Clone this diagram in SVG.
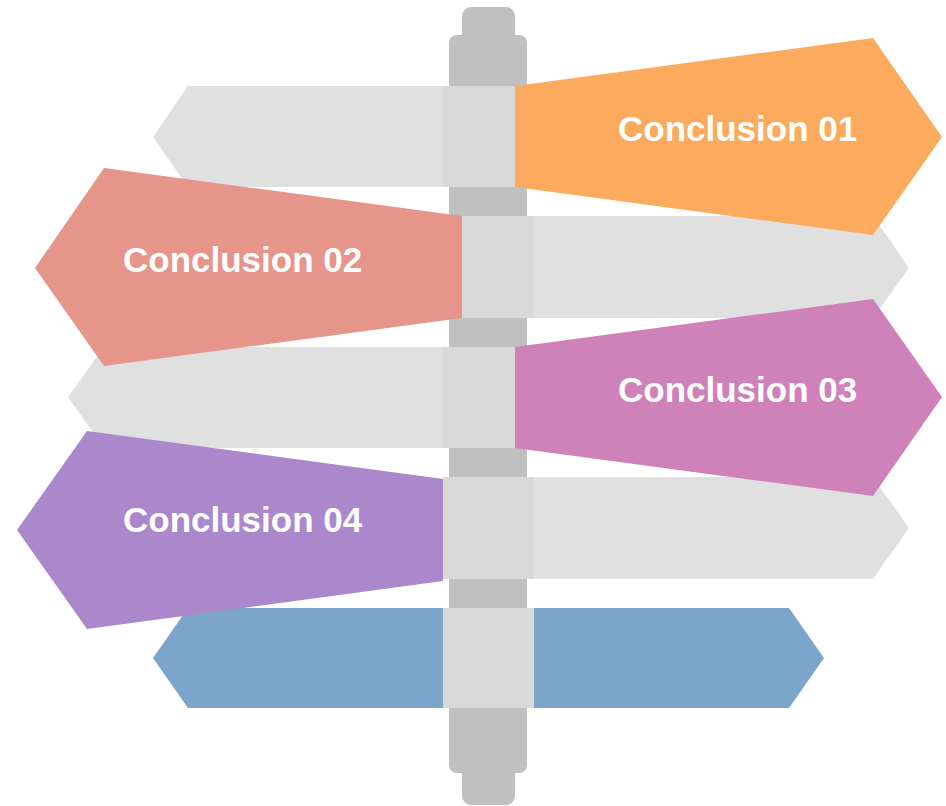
<svg xmlns="http://www.w3.org/2000/svg" width="946" height="806" viewBox="0 0 946 806">
  <style>
    .pole { fill: #c0c0c0; }
    .arm { fill: #e0e0e0; }
    .collar { fill: #d9d9d9; }
    .label { font-family: "Liberation Sans", Arial, sans-serif; font-weight: bold; font-size: 35px; fill: #ffffff; }
  </style>
  <rect width="946" height="806" fill="#ffffff"/>

  <!-- signpost pole -->
  <g id="pole">
    <rect class="pole" x="462" y="7" width="53" height="60" rx="9"/>
    <rect class="pole" x="449" y="35" width="78" height="738" rx="8"/>
    <rect class="pole" x="462" y="740" width="53" height="65" rx="9"/>
  </g>

  <!-- grey back arms and collars -->
  <g id="arms">
    <polygon class="arm" points="188,86 450,86 450,187 188,187 153,137"/>
    <polygon class="arm" points="520,216 873,216 909,268 873,318 520,318"/>
    <polygon class="arm" points="104,347 450,347 450,448 104,448 68,397"/>
    <polygon class="arm" points="520,477 873,477 909,528 873,579 520,579"/>
    <rect class="collar" x="443" y="86" width="72" height="101"/>
    <rect class="collar" x="462" y="216" width="72" height="102"/>
    <rect class="collar" x="443" y="347" width="72" height="101"/>
    <rect class="collar" x="443" y="477" width="91" height="102"/>
  </g>

  <g id="sign-01">
    <polygon fill="#fcab5e" points="515,86 873,38 942,137 873,235 515,187"/>
    <text class="label" x="618" y="141">Conclusion 01</text>
  </g>
  <g id="sign-02">
    <polygon fill="#e6958b" points="462,216 104,168 35,268 104,366 462,318"/>
    <text class="label" x="123" y="272">Conclusion 02</text>
  </g>
  <g id="sign-03">
    <polygon fill="#cf81b9" points="515,347 873,299 942,397 873,496 515,448"/>
    <text class="label" x="618" y="402">Conclusion 03</text>
  </g>
  <g id="sign-05">
    <polygon fill="#7ba5cb" points="188,608 443,608 443,708 188,708 153,658"/>
    <polygon fill="#7ba5cb" points="534,608 789,608 824,658 789,708 534,708"/>
    <rect class="collar" x="443" y="608" width="91" height="100"/>
  </g>
  <g id="sign-04">
    <polygon fill="#ab87cc" points="443,479 87,431 17,530 87,629 443,581"/>
    <text class="label" x="123" y="532">Conclusion 04</text>
  </g>
</svg>
